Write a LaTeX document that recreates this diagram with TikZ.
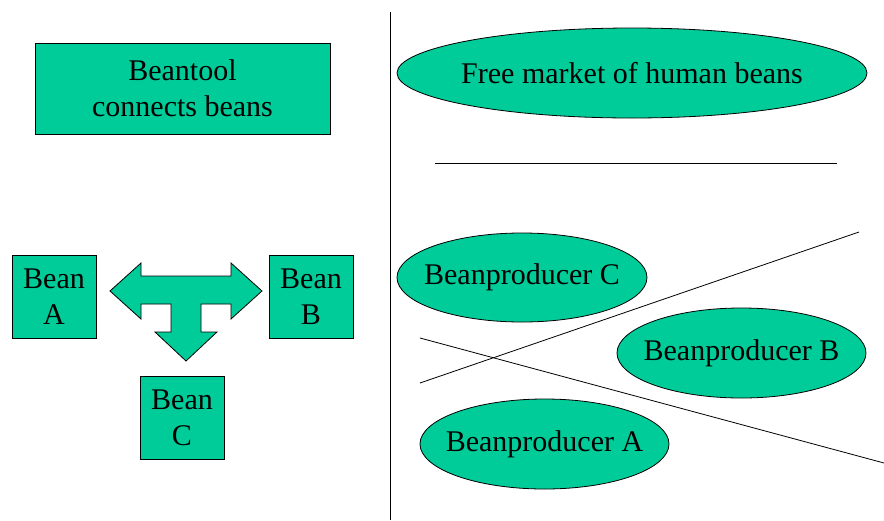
\documentclass[tikz,border=0pt]{standalone}
\usepackage{fontspec}
\setmainfont{Liberation Serif}
\usetikzlibrary{shapes.geometric}
\definecolor{beangreen}{RGB}{0,204,153}
\begin{document}
\begin{tikzpicture}[x=1pt,y=-1pt,
  every node/.style={font=\fontsize{30}{36}\selectfont, text=black},
  gbox/.style={draw=black, line width=0.8pt, fill=beangreen, rectangle, inner sep=0pt, align=center},
  gell/.style={draw=black, line width=0.8pt, fill=beangreen, ellipse, inner sep=0pt},
  thinline/.style={draw=black, line width=0.8pt}]
\useasboundingbox (0,0) rectangle (884,520);
% divider
\coordinate (vtop) at (390,12);
\coordinate (vbot) at (390,520);
\draw[thinline] (vtop) -- (vbot);
% left side
\node[gbox, minimum width=295pt, minimum height=91pt] (tool) at (182.5,88.5) {Beantool\\connects beans};
\node[gbox, minimum width=84pt, minimum height=83pt] (beanA) at (54,296.5) {Bean\\A};
\node[gbox, minimum width=84pt, minimum height=83pt] (beanB) at (311,296.5) {Bean\\B};
\node[gbox, minimum width=84pt, minimum height=83pt] (beanC) at (182,417.5) {Bean\\C};
\draw[line width=0.8pt, fill=beangreen]
  (110,291) -- (141,263) -- (141,276) -- (231,276) -- (231,263) -- (262,291)
  -- (231,319) -- (231,304) -- (201,304) -- (201,332) -- (217,332) -- (186,361)
  -- (155,332) -- (171,332) -- (171,304) -- (141,304) -- (141,319) -- cycle;
% right side
\node[gell, minimum width=470pt, minimum height=90pt, label={center:Free market of human beans}] (market) at (632,73) {};
\coordinate (hl) at (435,163);
\coordinate (hr) at (837,163);
\draw[thinline] (hl) -- (hr);
\node[gell, minimum width=250pt, minimum height=89pt, label={center:Beanproducer C}] (prodC) at (522,277.5) {};
\node[gell, minimum width=249pt, minimum height=90pt, label={center:Beanproducer B}] (prodB) at (741.5,353) {};
\node[gell, minimum width=249pt, minimum height=90pt, label={center:Beanproducer A}] (prodA) at (544.5,444) {};
\coordinate (l1a) at (420,383);
\coordinate (l1b) at (859,232);
\coordinate (l2a) at (420,338);
\coordinate (l2b) at (884,463);
\draw[thinline] (l1a) -- (l1b);
\draw[thinline] (l2a) -- (l2b);
\end{tikzpicture}
\end{document}
